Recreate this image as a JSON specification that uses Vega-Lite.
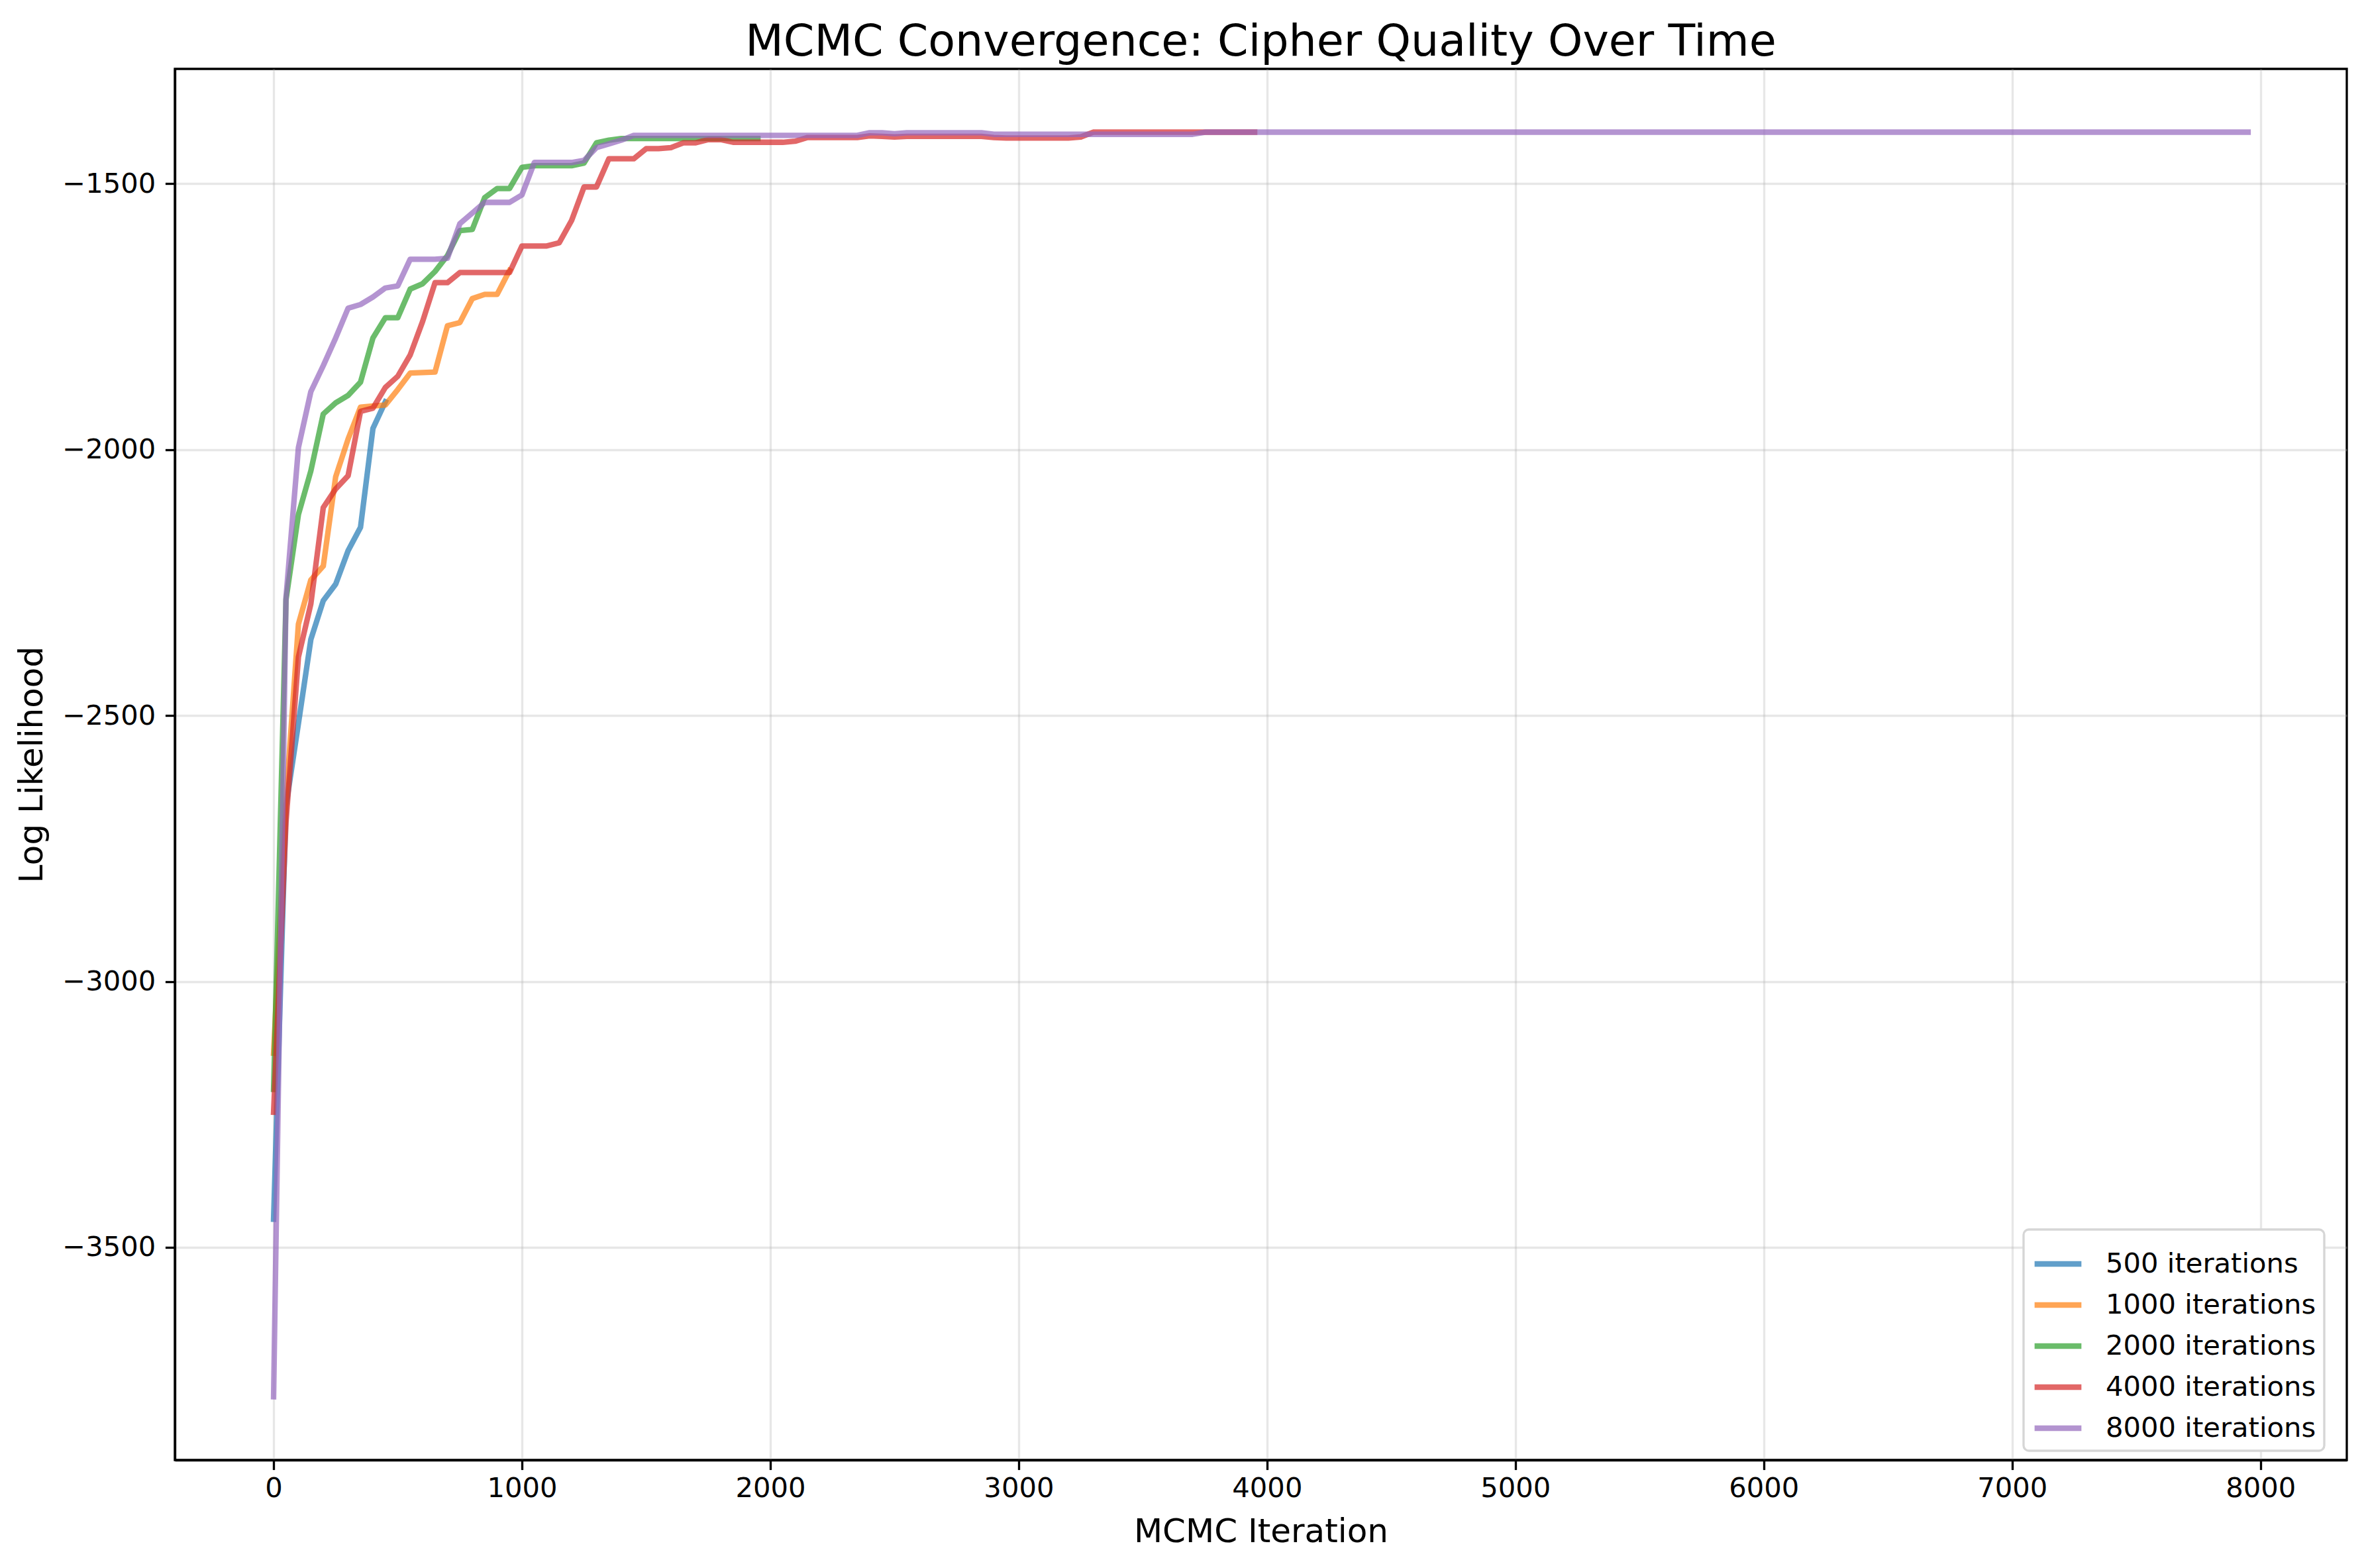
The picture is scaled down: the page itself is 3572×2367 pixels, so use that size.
{
"$schema": "https://vega.github.io/schema/vega-lite/v6.json",
"width": 3279, "height": 2100,
"autosize": {"type": "none"},
"padding": {"left": 264, "top": 104, "right": 29, "bottom": 163},
"background": "white",
"title": {"text": "MCMC Convergence: Cipher Quality Over Time", "fontSize": 66.7, "font": "DejaVu Sans", "fontWeight": "normal", "color": "black", "anchor": "middle", "baseline": "alphabetic", "offset": -47},
"data": {"values": [
{"s":"500 iterations","x":0,"y":-3447},{"s":"500 iterations","x":50,"y":-2670},{"s":"500 iterations","x":100,"y":-2515},{"s":"500 iterations","x":150,"y":-2357},{"s":"500 iterations","x":200,"y":-2284},{"s":"500 iterations","x":250,"y":-2253},{"s":"500 iterations","x":300,"y":-2190},{"s":"500 iterations","x":350,"y":-2146},{"s":"500 iterations","x":400,"y":-1960},{"s":"500 iterations","x":450,"y":-1910},
{"s":"1000 iterations","x":0,"y":-3135},{"s":"1000 iterations","x":50,"y":-2660},{"s":"1000 iterations","x":100,"y":-2328},{"s":"1000 iterations","x":150,"y":-2245},{"s":"1000 iterations","x":200,"y":-2219},{"s":"1000 iterations","x":250,"y":-2051},{"s":"1000 iterations","x":300,"y":-1980},{"s":"1000 iterations","x":350,"y":-1920},{"s":"1000 iterations","x":400,"y":-1918},{"s":"1000 iterations","x":450,"y":-1916},{"s":"1000 iterations","x":500,"y":-1887},{"s":"1000 iterations","x":550,"y":-1856},{"s":"1000 iterations","x":600,"y":-1855},{"s":"1000 iterations","x":650,"y":-1854},{"s":"1000 iterations","x":700,"y":-1767},{"s":"1000 iterations","x":750,"y":-1761},{"s":"1000 iterations","x":800,"y":-1716},{"s":"1000 iterations","x":850,"y":-1708},{"s":"1000 iterations","x":900,"y":-1708},{"s":"1000 iterations","x":950,"y":-1663},
{"s":"2000 iterations","x":0,"y":-3203},{"s":"2000 iterations","x":50,"y":-2282},{"s":"2000 iterations","x":100,"y":-2122},{"s":"2000 iterations","x":150,"y":-2040},{"s":"2000 iterations","x":200,"y":-1933},{"s":"2000 iterations","x":250,"y":-1912},{"s":"2000 iterations","x":300,"y":-1898},{"s":"2000 iterations","x":350,"y":-1873},{"s":"2000 iterations","x":400,"y":-1790},{"s":"2000 iterations","x":450,"y":-1752},{"s":"2000 iterations","x":500,"y":-1752},{"s":"2000 iterations","x":550,"y":-1698},{"s":"2000 iterations","x":600,"y":-1688},{"s":"2000 iterations","x":650,"y":-1665},{"s":"2000 iterations","x":700,"y":-1635},{"s":"2000 iterations","x":750,"y":-1588},{"s":"2000 iterations","x":800,"y":-1586},{"s":"2000 iterations","x":850,"y":-1526},{"s":"2000 iterations","x":900,"y":-1509},{"s":"2000 iterations","x":950,"y":-1509},{"s":"2000 iterations","x":1000,"y":-1469},{"s":"2000 iterations","x":1050,"y":-1466},{"s":"2000 iterations","x":1100,"y":-1466},{"s":"2000 iterations","x":1150,"y":-1466},{"s":"2000 iterations","x":1200,"y":-1466},{"s":"2000 iterations","x":1250,"y":-1461},{"s":"2000 iterations","x":1300,"y":-1423},{"s":"2000 iterations","x":1350,"y":-1418},{"s":"2000 iterations","x":1400,"y":-1415},{"s":"2000 iterations","x":1450,"y":-1415},{"s":"2000 iterations","x":1500,"y":-1415},{"s":"2000 iterations","x":1550,"y":-1415},{"s":"2000 iterations","x":1600,"y":-1415},{"s":"2000 iterations","x":1650,"y":-1415},{"s":"2000 iterations","x":1700,"y":-1415},{"s":"2000 iterations","x":1750,"y":-1415},{"s":"2000 iterations","x":1800,"y":-1415},{"s":"2000 iterations","x":1850,"y":-1415},{"s":"2000 iterations","x":1900,"y":-1415},{"s":"2000 iterations","x":1950,"y":-1415},
{"s":"4000 iterations","x":0,"y":-3246},{"s":"4000 iterations","x":50,"y":-2700},{"s":"4000 iterations","x":100,"y":-2390},{"s":"4000 iterations","x":150,"y":-2290},{"s":"4000 iterations","x":200,"y":-2109},{"s":"4000 iterations","x":250,"y":-2074},{"s":"4000 iterations","x":300,"y":-2049},{"s":"4000 iterations","x":350,"y":-1928},{"s":"4000 iterations","x":400,"y":-1922},{"s":"4000 iterations","x":450,"y":-1883},{"s":"4000 iterations","x":500,"y":-1862},{"s":"4000 iterations","x":550,"y":-1822},{"s":"4000 iterations","x":600,"y":-1759},{"s":"4000 iterations","x":650,"y":-1686},{"s":"4000 iterations","x":700,"y":-1686},{"s":"4000 iterations","x":750,"y":-1667},{"s":"4000 iterations","x":800,"y":-1667},{"s":"4000 iterations","x":850,"y":-1667},{"s":"4000 iterations","x":900,"y":-1667},{"s":"4000 iterations","x":950,"y":-1667},{"s":"4000 iterations","x":1000,"y":-1617},{"s":"4000 iterations","x":1050,"y":-1617},{"s":"4000 iterations","x":1100,"y":-1617},{"s":"4000 iterations","x":1150,"y":-1611},{"s":"4000 iterations","x":1200,"y":-1569},{"s":"4000 iterations","x":1250,"y":-1506},{"s":"4000 iterations","x":1300,"y":-1506},{"s":"4000 iterations","x":1350,"y":-1453},{"s":"4000 iterations","x":1400,"y":-1453},{"s":"4000 iterations","x":1450,"y":-1453},{"s":"4000 iterations","x":1500,"y":-1434},{"s":"4000 iterations","x":1550,"y":-1434},{"s":"4000 iterations","x":1600,"y":-1432},{"s":"4000 iterations","x":1650,"y":-1423},{"s":"4000 iterations","x":1700,"y":-1423},{"s":"4000 iterations","x":1750,"y":-1417},{"s":"4000 iterations","x":1800,"y":-1417},{"s":"4000 iterations","x":1850,"y":-1422},{"s":"4000 iterations","x":1900,"y":-1422},{"s":"4000 iterations","x":1950,"y":-1422},{"s":"4000 iterations","x":2000,"y":-1422},{"s":"4000 iterations","x":2050,"y":-1422},{"s":"4000 iterations","x":2100,"y":-1420},{"s":"4000 iterations","x":2150,"y":-1413},{"s":"4000 iterations","x":2200,"y":-1413},{"s":"4000 iterations","x":2250,"y":-1413},{"s":"4000 iterations","x":2300,"y":-1413},{"s":"4000 iterations","x":2350,"y":-1413},{"s":"4000 iterations","x":2400,"y":-1410},{"s":"4000 iterations","x":2450,"y":-1411},{"s":"4000 iterations","x":2500,"y":-1412},{"s":"4000 iterations","x":2550,"y":-1411},{"s":"4000 iterations","x":2600,"y":-1411},{"s":"4000 iterations","x":2650,"y":-1411},{"s":"4000 iterations","x":2700,"y":-1411},{"s":"4000 iterations","x":2750,"y":-1411},{"s":"4000 iterations","x":2800,"y":-1411},{"s":"4000 iterations","x":2850,"y":-1411},{"s":"4000 iterations","x":2900,"y":-1413},{"s":"4000 iterations","x":2950,"y":-1414},{"s":"4000 iterations","x":3000,"y":-1414},{"s":"4000 iterations","x":3050,"y":-1414},{"s":"4000 iterations","x":3100,"y":-1414},{"s":"4000 iterations","x":3150,"y":-1414},{"s":"4000 iterations","x":3200,"y":-1414},{"s":"4000 iterations","x":3250,"y":-1412},{"s":"4000 iterations","x":3300,"y":-1403},{"s":"4000 iterations","x":3350,"y":-1403},{"s":"4000 iterations","x":3400,"y":-1403},{"s":"4000 iterations","x":3450,"y":-1403},{"s":"4000 iterations","x":3500,"y":-1403},{"s":"4000 iterations","x":3550,"y":-1403},{"s":"4000 iterations","x":3600,"y":-1403},{"s":"4000 iterations","x":3650,"y":-1403},{"s":"4000 iterations","x":3700,"y":-1403},{"s":"4000 iterations","x":3750,"y":-1403},{"s":"4000 iterations","x":3800,"y":-1403},{"s":"4000 iterations","x":3850,"y":-1403},{"s":"4000 iterations","x":3900,"y":-1403},{"s":"4000 iterations","x":3950,"y":-1403},
{"s":"8000 iterations","x":0,"y":-3781},{"s":"8000 iterations","x":50,"y":-2278},{"s":"8000 iterations","x":100,"y":-1996},{"s":"8000 iterations","x":150,"y":-1891},{"s":"8000 iterations","x":200,"y":-1842},{"s":"8000 iterations","x":250,"y":-1790},{"s":"8000 iterations","x":300,"y":-1734},{"s":"8000 iterations","x":350,"y":-1727},{"s":"8000 iterations","x":400,"y":-1713},{"s":"8000 iterations","x":450,"y":-1696},{"s":"8000 iterations","x":500,"y":-1692},{"s":"8000 iterations","x":550,"y":-1642},{"s":"8000 iterations","x":600,"y":-1642},{"s":"8000 iterations","x":650,"y":-1642},{"s":"8000 iterations","x":700,"y":-1640},{"s":"8000 iterations","x":750,"y":-1575},{"s":"8000 iterations","x":800,"y":-1555},{"s":"8000 iterations","x":850,"y":-1535},{"s":"8000 iterations","x":900,"y":-1535},{"s":"8000 iterations","x":950,"y":-1535},{"s":"8000 iterations","x":1000,"y":-1521},{"s":"8000 iterations","x":1050,"y":-1460},{"s":"8000 iterations","x":1100,"y":-1460},{"s":"8000 iterations","x":1150,"y":-1460},{"s":"8000 iterations","x":1200,"y":-1460},{"s":"8000 iterations","x":1250,"y":-1456},{"s":"8000 iterations","x":1300,"y":-1432},{"s":"8000 iterations","x":1350,"y":-1425},{"s":"8000 iterations","x":1400,"y":-1418},{"s":"8000 iterations","x":1450,"y":-1409},
{"s":"8000 iterations","x":1500,"y":-1409},{"s":"8000 iterations","x":1550,"y":-1409},{"s":"8000 iterations","x":1600,"y":-1409},{"s":"8000 iterations","x":1650,"y":-1409},{"s":"8000 iterations","x":1700,"y":-1409},{"s":"8000 iterations","x":1750,"y":-1409},{"s":"8000 iterations","x":1800,"y":-1409},{"s":"8000 iterations","x":1850,"y":-1409},{"s":"8000 iterations","x":1900,"y":-1409},{"s":"8000 iterations","x":1950,"y":-1409},{"s":"8000 iterations","x":2000,"y":-1409},{"s":"8000 iterations","x":2050,"y":-1409},{"s":"8000 iterations","x":2100,"y":-1409},{"s":"8000 iterations","x":2150,"y":-1409},{"s":"8000 iterations","x":2200,"y":-1409},{"s":"8000 iterations","x":2250,"y":-1409},{"s":"8000 iterations","x":2300,"y":-1409},{"s":"8000 iterations","x":2350,"y":-1409},
{"s":"8000 iterations","x":2400,"y":-1404},{"s":"8000 iterations","x":2450,"y":-1404},{"s":"8000 iterations","x":2500,"y":-1406},
{"s":"8000 iterations","x":2550,"y":-1404},{"s":"8000 iterations","x":2600,"y":-1404},{"s":"8000 iterations","x":2650,"y":-1404},{"s":"8000 iterations","x":2700,"y":-1404},{"s":"8000 iterations","x":2750,"y":-1404},{"s":"8000 iterations","x":2800,"y":-1404},{"s":"8000 iterations","x":2850,"y":-1404},
{"s":"8000 iterations","x":2900,"y":-1407},{"s":"8000 iterations","x":2950,"y":-1407},{"s":"8000 iterations","x":3000,"y":-1407},{"s":"8000 iterations","x":3050,"y":-1407},{"s":"8000 iterations","x":3100,"y":-1407},{"s":"8000 iterations","x":3150,"y":-1407},{"s":"8000 iterations","x":3200,"y":-1407},{"s":"8000 iterations","x":3250,"y":-1407},{"s":"8000 iterations","x":3300,"y":-1407},{"s":"8000 iterations","x":3350,"y":-1407},{"s":"8000 iterations","x":3400,"y":-1407},{"s":"8000 iterations","x":3450,"y":-1407},{"s":"8000 iterations","x":3500,"y":-1407},{"s":"8000 iterations","x":3550,"y":-1407},{"s":"8000 iterations","x":3600,"y":-1407},{"s":"8000 iterations","x":3650,"y":-1407},{"s":"8000 iterations","x":3700,"y":-1407},
{"s":"8000 iterations","x":3750,"y":-1403},{"s":"8000 iterations","x":3800,"y":-1403},{"s":"8000 iterations","x":3850,"y":-1403},{"s":"8000 iterations","x":3900,"y":-1403},{"s":"8000 iterations","x":3950,"y":-1403},{"s":"8000 iterations","x":4000,"y":-1403},{"s":"8000 iterations","x":4050,"y":-1403},{"s":"8000 iterations","x":4100,"y":-1403},{"s":"8000 iterations","x":4150,"y":-1403},{"s":"8000 iterations","x":4200,"y":-1403},{"s":"8000 iterations","x":4250,"y":-1403},{"s":"8000 iterations","x":4300,"y":-1403},{"s":"8000 iterations","x":4350,"y":-1403},{"s":"8000 iterations","x":4400,"y":-1403},{"s":"8000 iterations","x":4450,"y":-1403},{"s":"8000 iterations","x":4500,"y":-1403},{"s":"8000 iterations","x":4550,"y":-1403},{"s":"8000 iterations","x":4600,"y":-1403},{"s":"8000 iterations","x":4650,"y":-1403},{"s":"8000 iterations","x":4700,"y":-1403},{"s":"8000 iterations","x":4750,"y":-1403},{"s":"8000 iterations","x":4800,"y":-1403},{"s":"8000 iterations","x":4850,"y":-1403},{"s":"8000 iterations","x":4900,"y":-1403},{"s":"8000 iterations","x":4950,"y":-1403},{"s":"8000 iterations","x":5000,"y":-1403},{"s":"8000 iterations","x":5050,"y":-1403},{"s":"8000 iterations","x":5100,"y":-1403},{"s":"8000 iterations","x":5150,"y":-1403},{"s":"8000 iterations","x":5200,"y":-1403},{"s":"8000 iterations","x":5250,"y":-1403},{"s":"8000 iterations","x":5300,"y":-1403},{"s":"8000 iterations","x":5350,"y":-1403},{"s":"8000 iterations","x":5400,"y":-1403},{"s":"8000 iterations","x":5450,"y":-1403},{"s":"8000 iterations","x":5500,"y":-1403},{"s":"8000 iterations","x":5550,"y":-1403},{"s":"8000 iterations","x":5600,"y":-1403},{"s":"8000 iterations","x":5650,"y":-1403},{"s":"8000 iterations","x":5700,"y":-1403},{"s":"8000 iterations","x":5750,"y":-1403},{"s":"8000 iterations","x":5800,"y":-1403},{"s":"8000 iterations","x":5850,"y":-1403},{"s":"8000 iterations","x":5900,"y":-1403},{"s":"8000 iterations","x":5950,"y":-1403},{"s":"8000 iterations","x":6000,"y":-1403},{"s":"8000 iterations","x":6050,"y":-1403},{"s":"8000 iterations","x":6100,"y":-1403},{"s":"8000 iterations","x":6150,"y":-1403},{"s":"8000 iterations","x":6200,"y":-1403},{"s":"8000 iterations","x":6250,"y":-1403},{"s":"8000 iterations","x":6300,"y":-1403},{"s":"8000 iterations","x":6350,"y":-1403},{"s":"8000 iterations","x":6400,"y":-1403},{"s":"8000 iterations","x":6450,"y":-1403},{"s":"8000 iterations","x":6500,"y":-1403},{"s":"8000 iterations","x":6550,"y":-1403},{"s":"8000 iterations","x":6600,"y":-1403},{"s":"8000 iterations","x":6650,"y":-1403},{"s":"8000 iterations","x":6700,"y":-1403},{"s":"8000 iterations","x":6750,"y":-1403},{"s":"8000 iterations","x":6800,"y":-1403},{"s":"8000 iterations","x":6850,"y":-1403},{"s":"8000 iterations","x":6900,"y":-1403},{"s":"8000 iterations","x":6950,"y":-1403},{"s":"8000 iterations","x":7000,"y":-1403},{"s":"8000 iterations","x":7050,"y":-1403},{"s":"8000 iterations","x":7100,"y":-1403},{"s":"8000 iterations","x":7150,"y":-1403},{"s":"8000 iterations","x":7200,"y":-1403},{"s":"8000 iterations","x":7250,"y":-1403},{"s":"8000 iterations","x":7300,"y":-1403},{"s":"8000 iterations","x":7350,"y":-1403},{"s":"8000 iterations","x":7400,"y":-1403},{"s":"8000 iterations","x":7450,"y":-1403},{"s":"8000 iterations","x":7500,"y":-1403},{"s":"8000 iterations","x":7550,"y":-1403},{"s":"8000 iterations","x":7600,"y":-1403},{"s":"8000 iterations","x":7650,"y":-1403},{"s":"8000 iterations","x":7700,"y":-1403},{"s":"8000 iterations","x":7750,"y":-1403},{"s":"8000 iterations","x":7800,"y":-1403},{"s":"8000 iterations","x":7850,"y":-1403},{"s":"8000 iterations","x":7900,"y":-1403},{"s":"8000 iterations","x":7950,"y":-1403}
]},
"mark": {"type": "line", "strokeWidth": 8.33, "opacity": 0.7, "strokeCap": "square", "strokeJoin": "round", "clip": true},
"encoding": {
  "x": {"field": "x", "type": "quantitative", "scale": {"domain": [-397.5, 8347.5], "nice": false, "zero": false},
        "axis": {"values": [0,1000,2000,3000,4000,5000,6000,7000,8000], "format": "d", "title": "MCMC Iteration"}},
  "y": {"field": "y", "type": "quantitative", "scale": {"domain": [-3900, -1284], "nice": false, "zero": false},
        "axis": {"values": [-3500,-3000,-2500,-2000,-1500], "format": "d", "title": "Log Likelihood"}},
  "color": {"field": "s", "type": "nominal",
        "scale": {"domain": ["500 iterations","1000 iterations","2000 iterations","4000 iterations","8000 iterations"], "range": ["#1f77b4","#ff7f0e","#2ca02c","#d62728","#9467bd"]},
        "legend": {"orient": "none", "legendX": 2791, "legendY": 1752, "title": null, "padding": 12, "fillColor": "white", "strokeColor": "#d6d6d6", "cornerRadius": 8, "labelFontSize": 41.7, "labelFont": "DejaVu Sans", "labelColor": "black", "symbolType": "stroke", "symbolStrokeWidth": 8.33, "symbolSize": 5000, "symbolOpacity": 0.7, "labelOffset": 32, "rowPadding": 0, "labelLimit": 1000}}
},
"config": {
  "font": "DejaVu Sans",
  "view": {"stroke": "black", "strokeWidth": 3.33},
  "legend": {"strokeWidth": 3.33},
  "axis": {"domainColor": "black", "domainWidth": 3.33, "tickColor": "black", "tickWidth": 3.33, "tickSize": 14.6, "labelFontSize": 41.7, "labelFont": "DejaVu Sans", "labelColor": "black", "labelPadding": 14.6, "titleFontSize": 50, "titleFont": "DejaVu Sans", "titleFontWeight": "normal", "titleColor": "black", "gridColor": "#b0b0b0", "gridOpacity": 0.3, "gridWidth": 3.33},
  "axisX": {"titlePadding": 19, "labelPadding": 8},
  "axisY": {"titlePadding": 20}
}
}
